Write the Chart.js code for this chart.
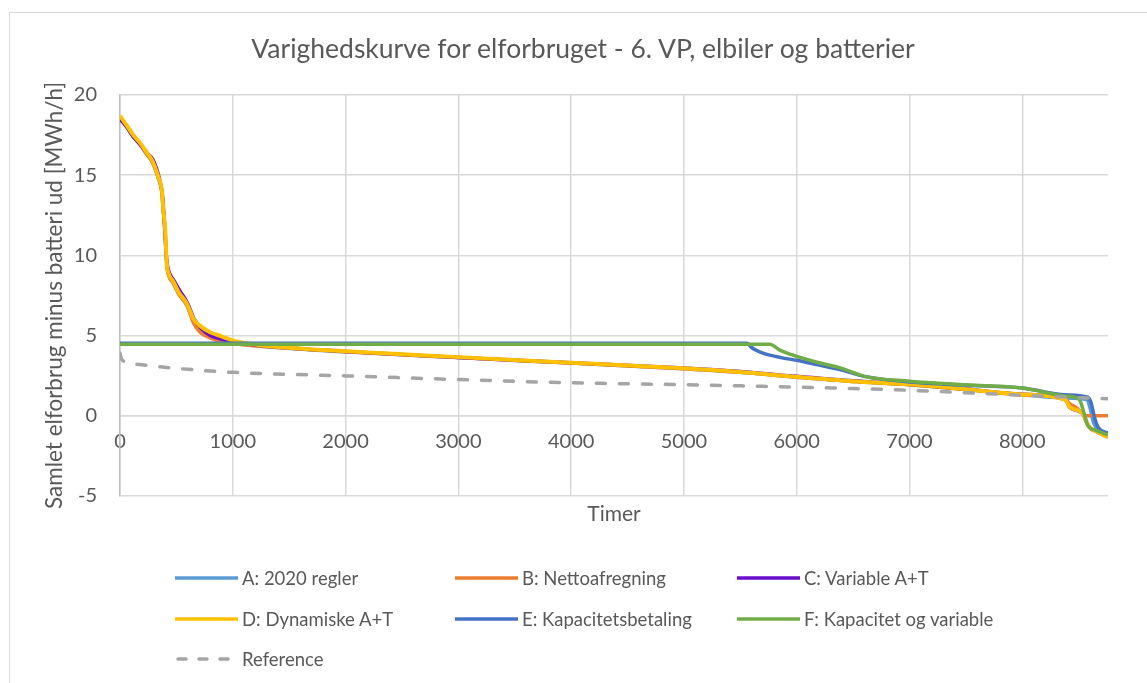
<!DOCTYPE html>
<html>
<head>
<meta charset="utf-8">
<script src="https://cdn.jsdelivr.net/npm/chart.js@4.4.1/dist/chart.umd.min.js"></script>
<style>
  html, body { margin: 0; padding: 0; background: #fff; overflow: hidden; }
  #frame { position: absolute; left: 9px; top: 12px; width: 1200px; height: 700px; border: 1px solid #D9D9D9; }
  #wrap { position: absolute; left: 0; top: 0; width: 1147px; height: 683px; }
  #title { position: absolute; left: 0; width: 1166px; top: 32px; text-align: center; font-family: Lato, sans-serif;
           font-size: 26.5px; line-height: 32px; color: #595959; white-space: nowrap; }
  .leg { position: absolute; font-family: Lato, sans-serif; font-size: 18.5px; color: #595959; white-space: nowrap; }
  .leg svg { position: absolute; left: 0; top: 0; }
  .leg span { position: absolute; top: -11px; }
</style>
</head>
<body>
<div id="frame"></div>
<div id="wrap"><canvas id="myChart" width="1147" height="683"></canvas></div>
<div id="title">Varighedskurve for elforbruget - 6. VP, elbiler og batterier</div>
<div id="legend"></div>
<script>
// duration curves, hours sorted by consumption
const labels = ['A: 2020 regler', 'B: Nettoafregning', 'C: Variable A+T', 'D: Dynamiske A+T',
    'E: Kapacitetsbetaling', 'F: Kapacitet og variable', 'Reference'];
const colors = ['#5B9BD5', '#ED7D31', '#6A0DCC', '#FFC000', '#4472C4', '#70AD47', '#A5A5A5'];

const hoursA = [0, 60, 118, 180, 237, 280, 311, 340, 370, 385, 400, 415, 435, 470, 520, 592, 651, 710, 800, 900, 1006, 1155, 1300, 2000, 3000, 4000, 5000, 5500, 6000, 6500, 7000, 7500, 8000, 8380, 8570, 8600, 8630, 8660, 8760];
const valuesA = [18.6, 18.0, 17.4, 16.9, 16.3, 15.9, 15.4, 14.8, 14.0, 12.7, 11.5, 9.4, 8.7, 8.3, 7.6, 6.9, 5.9, 5.3, 4.9, 4.65, 4.5, 4.4, 4.3, 3.98, 3.62, 3.28, 2.93, 2.7, 2.4, 2.13, 1.93, 1.63, 1.3, 1.1, 1.0, 0.5, -0.4, -0.8, -1.2];

const hoursB = [0, 60, 118, 180, 237, 280, 311, 340, 370, 385, 400, 415, 435, 470, 520, 592, 651, 710, 800, 900, 1006, 1155, 1300, 2000, 3000, 4000, 5000, 5500, 6000, 6500, 7000, 7500, 8000, 8380, 8420, 8480, 8540, 8570, 8760];
const valuesB = [18.6, 18.0, 17.4, 16.9, 16.3, 15.9, 15.4, 14.8, 14.0, 12.7, 11.5, 9.4, 8.7, 8.3, 7.6, 6.9, 5.8, 5.2, 4.85, 4.6, 4.48, 4.38, 4.3, 3.98, 3.62, 3.28, 2.93, 2.7, 2.4, 2.13, 1.93, 1.63, 1.3, 1.05, 0.75, 0.5, 0.1, 0.0, 0.0];

const hoursC = [0, 60, 118, 180, 237, 290, 325, 352, 380, 395, 410, 425, 445, 480, 530, 600, 660, 720, 800, 900, 1006, 1155, 1300, 2000, 3000, 4000, 5000, 5500, 6000, 6500, 7000, 7500, 8000, 8380, 8420, 8500, 8540, 8570, 8600, 8650, 8760];
const valuesC = [18.5, 18.0, 17.4, 16.9, 16.4, 16.0, 15.4, 14.7, 13.5, 11.8, 10.0, 9.2, 8.8, 8.4, 7.8, 7.0, 6.0, 5.45, 5.0, 4.78, 4.6, 4.45, 4.33, 4.0, 3.63, 3.3, 2.97, 2.75, 2.45, 2.17, 1.96, 1.66, 1.33, 1.0, 0.52, 0.28, 0.08, -0.42, -0.77, -0.97, -1.33];

const hoursD = [0, 60, 118, 180, 237, 280, 311, 340, 370, 385, 400, 415, 435, 470, 520, 592, 651, 710, 800, 900, 1006, 1155, 1300, 2000, 3000, 4000, 5000, 5500, 6000, 6500, 7000, 7500, 8000, 8380, 8420, 8500, 8540, 8570, 8600, 8650, 8760];
const valuesD = [18.7, 18.1, 17.5, 17.0, 16.4, 16.0, 15.5, 14.9, 14.1, 12.8, 11.6, 9.5, 8.8, 8.4, 7.7, 7.0, 6.05, 5.6, 5.2, 4.95, 4.68, 4.48, 4.35, 4.02, 3.65, 3.3, 2.95, 2.72, 2.42, 2.15, 1.95, 1.65, 1.32, 1.0, 0.55, 0.3, 0.1, -0.4, -0.75, -0.95, -1.35];

const hoursE = [0, 5560, 5600, 5650, 5700, 5860, 6000, 6200, 6400, 6600, 7000, 7500, 8000, 8380, 8580, 8610, 8640, 8670, 8760];
const valuesE = [4.52, 4.52, 4.25, 4.05, 3.9, 3.62, 3.45, 3.15, 2.85, 2.45, 2.1, 1.9, 1.73, 1.3, 1.15, 0.8, -0.1, -0.7, -1.1];

const hoursF = [0, 5760, 5860, 6000, 6200, 6400, 6600, 7000, 7500, 8000, 8380, 8500, 8520, 8550, 8580, 8650, 8760];
const valuesF = [4.45, 4.45, 4.05, 3.7, 3.3, 2.95, 2.45, 2.15, 1.92, 1.72, 1.22, 1.05, 0.8, 0.1, -0.6, -0.9, -1.2];

const hoursRef = [0, 15, 148, 500, 1000, 2000, 3000, 4000, 5000, 6000, 7000, 8000, 8760];
const valuesRef = [3.9, 3.5, 3.2, 2.95, 2.7, 2.48, 2.25, 2.05, 1.93, 1.78, 1.58, 1.27, 1.05];

const xTicks = [0, 1000, 2000, 3000, 4000, 5000, 6000, 7000, 8000];
const yTicks = [-5, 0, 5, 10, 15, 20];

const seriesHours = [hoursA, hoursB, hoursC, hoursD, hoursE, hoursF, hoursRef];
const seriesValues = [valuesA, valuesB, valuesC, valuesD, valuesE, valuesF, valuesRef];

const textColor = '#595959';
const gridColor = '#D9D9D9';

function toPoints(hours, values) {
    return hours.map((h, i) => ({ x: h, y: values[i] }));
}

const datasets = labels.map((label, i) => ({
    label: label,
    data: toPoints(seriesHours[i], seriesValues[i]),
    borderColor: colors[i],
    backgroundColor: colors[i],
    borderWidth: i === 3 ? 4 : 3.5,
    borderDash: i === 6 ? [9, 14] : [],
    borderCapStyle: i === 6 ? 'round' : 'butt',
    pointRadius: 0,
    fill: false,
    cubicInterpolationMode: 'monotone',
    order: labels.length - i,
}));

new Chart(document.getElementById('myChart'), {
    type: 'line',
    data: { datasets: datasets },
    options: {
        responsive: false,
        animation: false,
        layout: { padding: { left: 0, right: 39, top: 95, bottom: 156 } },
        plugins: {
            legend: { display: false },
            tooltip: { enabled: false },
        },
        scales: {
            x: {
                type: 'linear',
                position: { y: 0 },
                min: 0,
                max: 8760,
                afterBuildTicks: (scale) => { scale.ticks = xTicks.map(v => ({ value: v })); },
                ticks: {
                    color: textColor,
                    font: { family: 'Lato', size: 20 },
                    padding: 14,
                    maxRotation: 0,
                    callback: (value) => String(value),
                },
                grid: { color: gridColor, lineWidth: 1.5, drawTicks: false },
                border: { color: gridColor, width: 1.5 },
            },
            xTitle: {
                type: 'linear',
                position: 'bottom',
                axis: 'x',
                ticks: { display: false },
                grid: { display: false, drawTicks: false },
                border: { display: false },
                title: {
                    display: true,
                    text: 'Timer',
                    color: textColor,
                    font: { family: 'Lato', size: 21, lineHeight: 1.2 },
                    padding: { top: 6, bottom: 0 },
                },
            },
            y: {
                min: -5,
                max: 20,
                afterBuildTicks: (scale) => { scale.ticks = yTicks.map(v => ({ value: v })); },
                afterFit: (scale) => { scale.width = 120; },
                ticks: {
                    color: textColor,
                    font: { family: 'Lato', size: 20 },
                    padding: 23,
                },
                grid: { color: gridColor, lineWidth: 1.5, drawTicks: false },
                border: { color: '#BFBFBF', width: 1.5 },
                title: {
                    display: true,
                    text: 'Samlet elforbrug minus batteri ud [MWh/h]',
                    color: textColor,
                    font: { family: 'Lato', size: 22.5, lineHeight: 1.2 },
                    padding: { top: 41, bottom: 0 },
                },
            },
        },
    },
});

// legend laid out in three columns like the original
const legendCols = [175, 455, 737];
const legendRows = [578, 619, 659];
const legendEl = document.getElementById('legend');
labels.forEach((label, i) => {
    const item = document.createElement('div');
    item.className = 'leg';
    item.style.left = legendCols[i % 3] + 'px';
    item.style.top = legendRows[Math.floor(i / 3)] + 'px';
    const dash = i === 6 ? 'stroke-dasharray="8 13" stroke-linecap="round"' : '';
    item.innerHTML = '<svg width="64" height="8" style="top:-4px"><line x1="' + (i === 6 ? 3 : 0) + '" y1="4" x2="' + (i === 6 ? 60 : 63) + '" y2="4" stroke="' + colors[i] + '" stroke-width="3.5" ' + dash + '/></svg>' +
        '<span style="left:67px">' + label + '</span>';
    legendEl.appendChild(item);
});
</script>
</body>
</html>
